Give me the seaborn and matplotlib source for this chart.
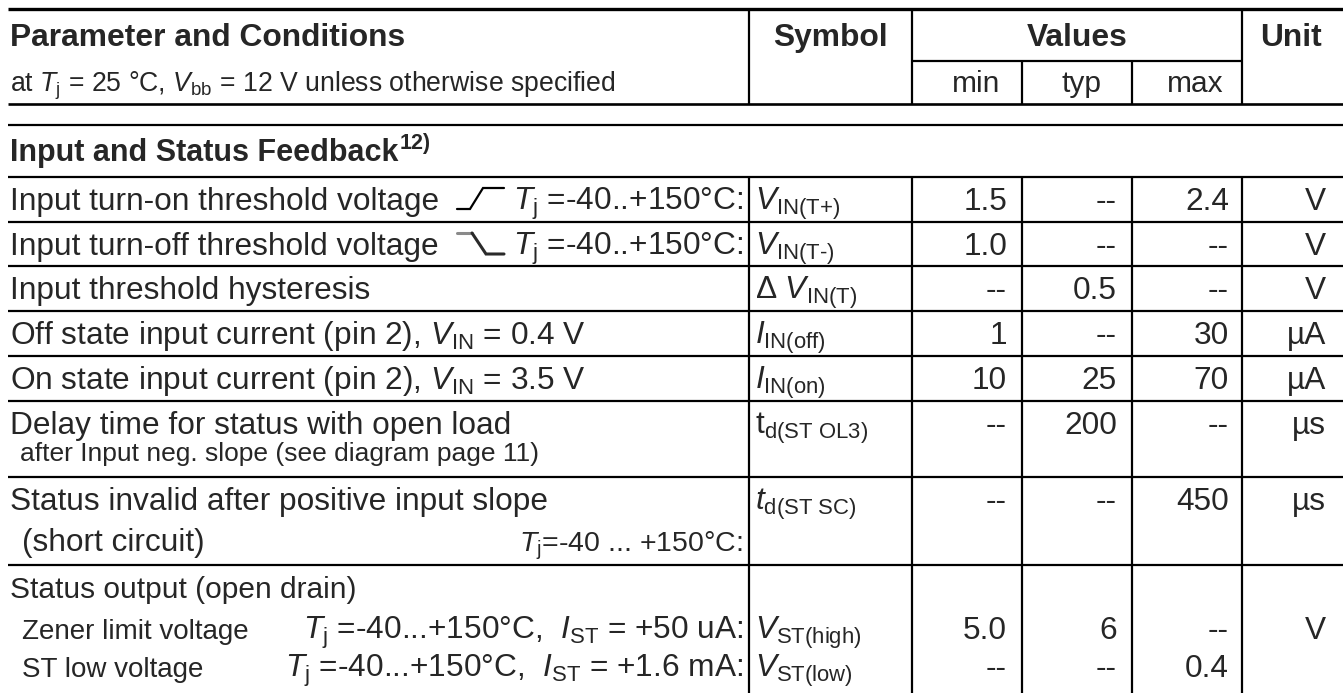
import matplotlib
matplotlib.use("Agg")
import matplotlib.pyplot as plt
import seaborn as sns

# ---------------- data ----------------
header_param = "Parameter and Conditions"
header_cond = r"at $T_{\text{j}}$ = 25 °C, $V_{\text{bb}}$ = 12 V unless otherwise specified"
header_symbol = "Symbol"
header_values = "Values"
header_unit = "Unit"
value_cols = ["min", "typ", "max"]
section_title = "Input and Status Feedback"
section_note = "12)"

param_text = [
    "Input turn-on threshold voltage",
    "Input turn-off threshold voltage",
    "Input threshold hysteresis",
    r"Off state input current (pin 2), $V_{\text{IN}}$ = 0.4 V",
    r"On state input current (pin 2), $V_{\text{IN}}$ = 3.5 V",
    "Delay time for status with open load",
    "Status invalid after positive input slope",
    "Status output (open drain)",
]
param_cond = [
    r"$T_{\text{j}}$ =-40..+150°C:",
    r"$T_{\text{j}}$ =-40..+150°C:",
    "", "", "", "", "", "",
]
delay_note = "after Input neg. slope (see diagram page 11)"
short_label = "(short circuit)"
short_cond = r"$T_{\text{j}}$=-40 ... +150°C:"
status_labels = ["Zener limit voltage", "ST low voltage"]
status_cond = [r"$T_{\text{j}}$ =-40...+150°C,  $I_{\text{ST}}$ = +50 uA:",
               r"$T_{\text{j}}$ =-40...+150°C,  $I_{\text{ST}}$ = +1.6 mA:"]
edge_icons = ["rise", "fall", None, None, None, None, None, None]

symbols = [
    r"$V_{\text{IN(T+)}}$",
    r"$V_{\text{IN(T-)}}$",
    r"Δ $V_{\text{IN(T)}}$",
    r"$I_{\text{IN(off)}}$",
    r"$I_{\text{IN(on)}}$",
    r"$\mathrm{t}_{\text{d(ST OL3)}}$",
    r"$t_{\text{d(ST SC)}}$",
    r"$V_{\text{ST(high)}}$",
    r"$V_{\text{ST(low)}}$",
]
mins = ["1.5", "1.0", "--", "1", "10", "--", "--", "5.0", "--"]
typs = ["--", "--", "0.5", "--", "25", "200", "--", "6", "--"]
maxs = ["2.4", "--", "--", "30", "70", "--", "450", "--", "0.4"]
units = ["V", "V", "V", "µA", "µA", "µs", "µs", "V", ""]

# ---------------- style ----------------
sns.set_theme(style="white")
plt.rcParams["font.family"] = ["Liberation Sans", "DejaVu Sans"]
plt.rcParams["mathtext.fontset"] = "custom"
plt.rcParams["mathtext.rm"] = "Liberation Sans"
plt.rcParams["mathtext.it"] = "Liberation Sans:italic"
plt.rcParams["mathtext.bf"] = "Liberation Sans:bold"
plt.rcParams["mathtext.sf"] = "Liberation Sans"

W, H = 1343, 693
fig = plt.figure(figsize=(W / 100, H / 100), dpi=100)
ax = fig.add_axes([0, 0, 1, 1])
ax.set_xlim(0, W)
ax.set_ylim(H, 0)
ax.axis("off")

FS = 22.8      # row text
FS_H = 22.9    # bold headers
FS_SEC = 22.0  # section title
FS_SUB = 19.2  # header condition line
FS_SMALL = 19.0
FS_COL = 21.5
FS_ST = 20.0   # status sub-row labels

LW = 1.6
X0, X1 = 8, W
xs_sym, xs_min, xs_typ, xs_max, xs_unit = 749, 912, 1022, 1132, 1242
col_right = [1007, 1117, 1229]
col_label_center = [976, 1081, 1195]
unit_right = 1326
cond_right = 743

def hline(y, x0=X0, x1=X1, lw=LW):
    ax.plot([x0, x1], [y, y], color="black", lw=lw, solid_capstyle="butt")

def vline(x, y0, y1, lw=LW):
    ax.plot([x, x], [y0, y1], color="black", lw=lw, solid_capstyle="butt")

# ---------------- header ----------------
hline(9, lw=2.4)
hline(104, lw=1.9)
hline(61, xs_min, xs_unit)
for x in (xs_sym, xs_min, xs_unit):
    vline(x, 9, 104)
for x in (xs_typ, xs_max):
    vline(x, 61, 104)

ax.text(10, 46, header_param, fontsize=FS_H, fontweight="bold", ha="left", va="baseline")
ax.text(10, 92, header_cond, fontsize=FS_SUB, ha="left", va="baseline")
ax.text((xs_sym + xs_min) / 2, 46, header_symbol, fontsize=FS_H, fontweight="bold", ha="center", va="baseline")
ax.text((xs_min + xs_unit) / 2, 46, header_values, fontsize=FS_H, fontweight="bold", ha="center", va="baseline")
ax.text((xs_unit + W) / 2 - 1, 46, header_unit, fontsize=FS_H, fontweight="bold", ha="center", va="baseline")
for lab, xc in zip(value_cols, col_label_center):
    ax.text(xc, 92, lab, fontsize=FS_COL, ha="center", va="baseline")

# ---------------- section ----------------
hline(125)
sec = ax.text(10, 161, section_title, fontsize=FS_SEC, fontweight="bold", ha="left", va="baseline")
fig.canvas.draw()
renderer = fig.canvas.get_renderer()
bb = sec.get_window_extent(renderer)
x_end = ax.transData.inverted().transform((bb.x1, bb.y0))[0]
ax.text(x_end + 1, 149, section_note, fontsize=15.5, fontweight="bold", ha="left", va="baseline")

row_bounds = [(177, 222), (222, 266), (266, 311), (311, 356), (356, 401),
              (401, 477), (477, 565), (565, 693)]
for (t, b) in row_bounds:
    hline(t)
for x in (xs_sym, xs_min, xs_typ, xs_max, xs_unit):
    vline(x, 177, H)

val_idx = 0
for i, (t, b) in enumerate(row_bounds):
    base = t + 33
    fs_row = 21.5 if i == 7 else FS
    ax.text(10, base, param_text[i], fontsize=fs_row, ha="left", va="baseline")
    if param_cond[i]:
        ax.text(cond_right, base, param_cond[i], fontsize=FS, ha="right", va="baseline")
    if edge_icons[i]:
        x_a = 457
        ylo, yhi = base - 1, base - 22
        if edge_icons[i] == "rise":
            ax.plot([x_a, x_a + 13, x_a + 26, x_a + 47], [ylo, ylo, yhi, yhi],
                    color="black", lw=1.6, solid_joinstyle="miter")
        else:
            ax.plot([x_a, x_a + 15], [yhi, yhi], color="#8a8a8a", lw=2.2)
            ax.plot([x_a + 15, x_a + 29, x_a + 47], [yhi, ylo, ylo],
                    color="#2a2a2a", lw=2.2, solid_joinstyle="miter")

    if i == 5:
        ax.text(20, t + 60, delay_note, fontsize=FS_SMALL, ha="left", va="baseline")
    if i == 6:
        ax.text(22, t + 74, short_label, fontsize=FS, ha="left", va="baseline")
        ax.text(cond_right, t + 74, short_cond, fontsize=20.5, ha="right", va="baseline")
    sub_bases = []
    if i == 7:
        sub_bases = [t + 74, t + 112]
        for lab, cond, sb in zip(status_labels, status_cond, sub_bases):
            ax.text(22, sb, lab, fontsize=FS_ST, ha="left", va="baseline")
            ax.text(cond_right, sb, cond, fontsize=FS, ha="right", va="baseline")

    # values
    vbases = [base] if i < 7 else sub_bases
    for vb in vbases:
        ax.text(755, vb, symbols[val_idx], fontsize=FS, ha="left", va="baseline")
        for arr, xr in zip((mins, typs, maxs), col_right):
            ax.text(xr, vb, arr[val_idx], fontsize=FS, ha="right", va="baseline")
        if units[val_idx]:
            ax.text(unit_right, vb, units[val_idx], fontsize=FS, ha="right", va="baseline")
        val_idx += 1

fig.savefig("out.png", dpi=100)
